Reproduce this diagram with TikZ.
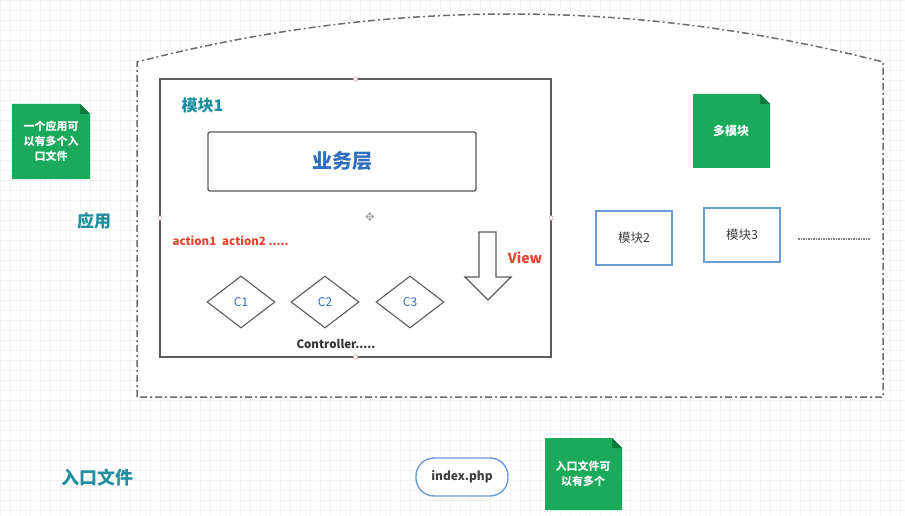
\documentclass[tikz,border=0pt]{standalone}
\usepackage{fontspec}
\setmainfont{Noto Sans CJK SC}
\newfontfamily\symfont{DejaVu Sans}
\usetikzlibrary{shapes.geometric}
\definecolor{gridc}{HTML}{F2F2F2}
\definecolor{teal}{HTML}{1F8FA0}
\definecolor{bizblue}{HTML}{2F6FC0}
\definecolor{actred}{HTML}{E5452E}
\definecolor{docgreen}{HTML}{1BAA5C}
\definecolor{docfold}{HTML}{0E7A3E}
\definecolor{boxgray}{HTML}{5A5A5A}
\definecolor{modblue}{HTML}{6C9BD6}
\tikzset{
  title/.style={font=\bfseries\fontsize{17}{20}\selectfont, text=teal},
  docbox/.style={fill=docgreen, draw=none},
  cdiam/.style={diamond, draw=boxgray, line width=1.1pt, minimum width=68pt, minimum height=52pt, aspect=1.3, inner sep=0pt, text=bizblue, font=\fontsize{12}{14}\selectfont},
  modbox/.style={rectangle, draw=modblue, line width=1.4pt, fill=white, minimum width=76pt, minimum height=54pt, font=\fontsize{12.5}{14}\selectfont, text=black!75},
  handle/.style={circle, draw=red!25!gray!60, fill=white, line width=0.5pt, minimum size=4.5pt, inner sep=0pt},
  outline/.style={draw=gray!85!black, line width=1.5pt, dash pattern=on 7pt off 3pt on 2pt off 3pt}
}
\begin{document}
\begin{tikzpicture}[x=1pt,y=-1pt]
\useasboundingbox (0,0) rectangle (905,516);
\fill[white] (0,0) rectangle (905,516);
\draw[gridc, line width=0.4pt, step=10pt] (0,0) grid (905,516);
% outer dashed application region
\path[fill=white] (137,397) -- (137,62) .. controls (385.7,-2) and (634.3,-2) .. (883,62) -- (883,397) -- cycle;
\draw[outline] (137,397) -- (137,62) .. controls (385.7,-2) and (634.3,-2) .. (883,62) -- (883,397) -- cycle;
% module 1
\node[draw=boxgray, line width=1.4pt, minimum width=391pt, minimum height=278pt, inner sep=0pt] (m1) at (355.5,218) {};
\node[title, anchor=west, font=\bfseries\fontsize{16}{18}\selectfont] (m1t) at (178,105) {模块1};
\node[draw=boxgray, line width=1.4pt, rounded corners=2pt, minimum width=268pt, minimum height=59pt, text=bizblue, font=\bfseries\fontsize{20}{22}\selectfont] (biz) at (342,161.5) {业务层};
\node[text=actred, font=\bfseries\fontsize{11.5}{13}\selectfont, anchor=west] (act) at (169,241) {action1\hspace{6pt}action2 .....};
\node[cdiam] (c1) at (241,302) {C1};
\node[cdiam] (c2) at (325,302) {C2};
\node[cdiam] (c3) at (410,302) {C3};
\node[text=black!80, font=\bfseries\fontsize{11.5}{13}\selectfont] (ctrl) at (336,344) {Controller.....};
\draw[boxgray, line width=1.1pt, fill=white] (479,232) -- (496,232) -- (496,277) -- (511,277) -- (488,300) -- (465,277) -- (479,277) -- cycle;
\node[text=actred, font=\bfseries\fontsize{14}{16}\selectfont] (view) at (525,258) {View};
\node[handle] (h1) at (355.5,79) {};
\node[handle] (h2) at (355.5,357) {};
\node[handle] (h3) at (160,218) {};
\node[handle] (h4) at (551,218) {};
\node[text=gray!70, font=\symfont\fontsize{12}{12}\selectfont] (mv) at (370,217) {✥};
% right side modules
\path[docbox] (693,94) -- (760,94) -- (770,104) -- (770,168) -- (693,168) -- cycle;
\fill[docfold] (760,94) -- (770,104) -- (760,104) -- cycle;
\node[text=white, font=\bfseries\fontsize{12}{14}\selectfont] (multi) at (731,131) {多模块};
\node[modbox] (m2) at (634,238) {模块2};
\node[modbox] (m3) at (742,235) {模块3};
\coordinate (d1) at (798,239);
\coordinate (d2) at (870,239);
\draw[gray, line width=1.2pt, dash pattern=on 1.5pt off 1pt] (d1) -- (d2);
% left notes
\path[docbox] (12,104) -- (80,104) -- (90,114) -- (90,179) -- (12,179) -- cycle;
\fill[docfold] (80,104) -- (90,114) -- (80,114) -- cycle;
\node[text=white, font=\bfseries\fontsize{11}{15}\selectfont, align=center] (note1) at (51,141) {一个应用可\\以有多个入\\口文件};
\node[title] (app) at (94,221) {应用};
% bottom row
\node[title, font=\bfseries\fontsize{18}{20}\selectfont] (entry) at (97,478) {入口文件};
\node[draw=modblue, line width=1.4pt, rounded corners=18pt, minimum width=92pt, minimum height=38pt, fill=white, text=black!75, font=\bfseries\fontsize{12}{14}\selectfont] (idx) at (462,477) {index.php};
\path[docbox] (545,438) -- (612,438) -- (622,448) -- (622,510) -- (545,510) -- cycle;
\fill[docfold] (612,438) -- (622,448) -- (612,448) -- cycle;
\node[text=white, font=\bfseries\fontsize{11}{15}\selectfont, align=center] (note2) at (583,474) {入口文件可\\以有多个};
\end{tikzpicture}
\end{document}
